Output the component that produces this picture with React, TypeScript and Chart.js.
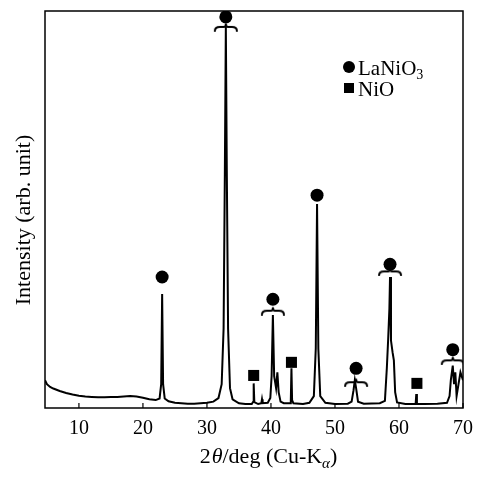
import React, { useEffect, useRef } from "react";
import { Chart, registerables } from "chart.js";

Chart.register(...registerables);

// XRD pattern (2θ in degrees, intensity in arbitrary units)
const twoTheta = [
  4.7, 5.0, 5.5, 6.0, 7.0, 8.0, 9.0, 10.0, 11.0, 12.0, 13.0, 14.0, 15.0, 16.0, 17.0, 18.0, 19.0, 20.0,
  21.0, 22.0, 22.6, 22.85, 23.0, 23.15, 23.4, 24.0, 25.0, 26.0, 27.0, 28.0, 29.0, 30.0, 31.0, 31.8,
  32.3, 32.6, 32.8, 32.95, 33.1, 33.3, 33.6, 34.0, 35.0, 36.0, 37.0, 37.2, 37.3, 37.4, 38.0, 38.5,
  38.6, 38.7, 39.5, 39.9, 40.1, 40.3, 40.5, 40.8, 41.0, 41.2, 41.5, 42.0, 43.0, 43.1, 43.2, 43.3,
  43.5, 45.0, 46.0, 46.7, 47.0, 47.2, 47.4, 47.7, 48.5, 50.0, 52.0, 52.6, 52.9, 53.1, 53.3, 53.6,
  54.5, 57.0, 57.8, 58.1, 58.3, 58.5, 58.6, 58.75, 59.0, 59.2, 59.4, 59.7, 61.0, 62.6, 62.7, 62.8,
  64.0, 66.0, 67.5, 67.9, 68.1, 68.4, 68.6, 68.8, 69.0, 69.3, 69.6, 70.0,
];
const intensity = [
  7.0, 6.0, 5.3, 4.9, 4.3, 3.8, 3.4, 3.1, 2.9, 2.8, 2.7, 2.7, 2.8, 2.8, 2.9, 3.0, 2.9, 2.6,
  2.2, 2.0, 2.4, 6.0, 28.7, 6.0, 2.4, 1.7, 1.3, 1.2, 1.1, 1.1, 1.2, 1.3, 1.6, 2.5,
  6.0, 20.0, 60.0, 96.0, 60.0, 20.0, 5.0, 2.2, 1.2, 1.0, 1.0, 1.5, 6.2, 1.5, 1.0, 1.2,
  2.2, 1.2, 1.3, 2.5, 8.0, 23.4, 8.0, 5.0, 9.0, 4.0, 1.6, 1.2, 1.2, 2.0, 10.0, 2.0,
  1.2, 1.0, 1.3, 3.0, 15.0, 51.4, 15.0, 3.0, 1.3, 1.0, 1.1, 1.6, 4.5, 7.0, 5.0, 1.6,
  1.1, 1.2, 1.8, 10.0, 17.0, 25.0, 33.0, 17.0, 14.0, 12.0, 4.0, 1.4, 1.0, 1.0, 3.5, 1.0,
  1.0, 1.1, 1.3, 3.0, 7.0, 10.7, 6.0, 9.0, 3.0, 6.0, 9.0, 7.0,
];

// Phase markers
const laNiO3X = [23.0, 32.95, 40.3, 47.2, 53.3, 58.6, 68.4];
const laNiO3Y = [33.0, 98.5, 27.4, 53.6, 10.0, 36.2, 14.7];
const nioX = [37.3, 43.2, 62.8];
const nioY = [8.2, 11.5, 6.2];
// brace marks under some circles
const braceX = [32.95, 40.3, 53.3, 58.6, 68.4];
const braceY = [96.0, 24.5, 6.5, 34.4, 12.0];

const xTicks = [10, 20, 30, 40, 50, 60, 70];
const legendLabels = ["LaNiO", "NiO"];

const SERIF = "'Liberation Serif', 'DejaVu Serif', serif";

function makeBrace(): HTMLCanvasElement {
  const c = document.createElement("canvas");
  c.width = 26;
  c.height = 10;
  const g = c.getContext("2d")!;
  g.strokeStyle = "#000";
  g.lineWidth = 2;
  g.lineCap = "round";
  g.beginPath();
  g.moveTo(2, 9);
  g.quadraticCurveTo(2, 5, 7, 5);
  g.lineTo(11, 5);
  g.quadraticCurveTo(13, 5, 13, 1.5);
  g.quadraticCurveTo(13, 5, 15, 5);
  g.lineTo(19, 5);
  g.quadraticCurveTo(24, 5, 24, 9);
  g.stroke();
  return c;
}

const framePlugin = {
  id: "framePlugin",
  afterDraw(chart: any) {
    const ctx = chart.ctx as CanvasRenderingContext2D;
    const a = chart.chartArea;
    const xs = chart.scales.x;
    ctx.save();
    ctx.strokeStyle = "#000";
    ctx.lineWidth = 1.5;
    ctx.strokeRect(a.left, a.top, a.right - a.left, a.bottom - a.top);
    // inward ticks
    ctx.lineWidth = 1.2;
    for (const v of xTicks) {
      const px = xs.getPixelForValue(v);
      ctx.beginPath();
      ctx.moveTo(px, a.bottom);
      ctx.lineTo(px, a.bottom - 5);
      ctx.stroke();
    }
    ctx.fillStyle = "#000";
    // y title
    ctx.save();
    ctx.translate(a.left - 15, 220);
    ctx.rotate(-Math.PI / 2);
    ctx.font = `22px ${SERIF}`;
    ctx.textAlign = "center";
    ctx.textBaseline = "alphabetic";
    ctx.fillText("Intensity (arb. unit)", 0, 0);
    ctx.restore();

    // x title with mixed styles
    const parts: [string, string, number][] = [
      ["2", `22px ${SERIF}`, 0],
      ["\u03b8", `italic 22px ${SERIF}`, 0],
      ["/deg (Cu-K", `22px ${SERIF}`, 0],
      ["\u03b1", `italic 15px ${SERIF}`, 5],
      [")", `22px ${SERIF}`, 0],
    ];
    let total = 0;
    for (const [t, f] of parts) {
      ctx.font = f;
      total += ctx.measureText(t).width;
    }
    let cx = 268 - total / 2;
    const base = 463;
    ctx.textAlign = "left";
    ctx.textBaseline = "alphabetic";
    for (const [t, f, dy] of parts) {
      ctx.font = f;
      ctx.fillText(t, cx, base + dy);
      cx += ctx.measureText(t).width + (t === "2" ? 1 : 0);
    }

    // legend inside the plot
    const lx = a.left + 304;
    ctx.beginPath();
    ctx.arc(lx, a.top + 56, 6, 0, Math.PI * 2);
    ctx.fill();
    ctx.fillRect(lx - 5, a.top + 77 - 5, 10, 10);
    ctx.font = `21px ${SERIF}`;
    ctx.fillText(legendLabels[0], lx + 9, a.top + 64);
    const w = ctx.measureText(legendLabels[0]).width;
    ctx.font = `14px ${SERIF}`;
    ctx.fillText("3", lx + 9 + w, a.top + 68);
    ctx.font = `21px ${SERIF}`;
    ctx.fillText(legendLabels[1], lx + 9, a.top + 85);
    ctx.restore();
  },
};

export default function App() {
  const ref = useRef<HTMLCanvasElement | null>(null);
  useEffect(() => {
    if (!ref.current) return;
    const brace = makeBrace();
    const chart = new Chart(ref.current, {
      type: "line",
      data: {
        datasets: [
          {
            label: "XRD",
            data: twoTheta.map((x, i) => ({ x, y: intensity[i] })),
            borderColor: "#000",
            borderWidth: 2,
            pointRadius: 0,
            tension: 0,
            fill: false,
          },
          {
            label: "LaNiO3",
            data: laNiO3X.map((x, i) => ({ x, y: laNiO3Y[i] })),
            showLine: false,
            pointStyle: "circle",
            pointRadius: 6.5,
            backgroundColor: "#000",
            borderColor: "#000",
            borderWidth: 0,
          },
          {
            label: "NiO",
            data: nioX.map((x, i) => ({ x, y: nioY[i] })),
            showLine: false,
            pointStyle: "rect",
            pointRadius: 7.8,
            backgroundColor: "#000",
            borderColor: "#000",
            borderWidth: 0,
          },
          {
            label: "brace",
            data: braceX.map((x, i) => ({ x, y: braceY[i] })),
            showLine: false,
            pointStyle: brace as any,
            pointRadius: 10,
          },
        ],
      },
      options: {
        animation: false,
        responsive: true,
        maintainAspectRatio: false,
        layout: { padding: { top: 7, right: 21, left: 0, bottom: 0 } },
        plugins: { legend: { display: false }, tooltip: { enabled: false } },
        scales: {
          x: {
            type: "linear",
            min: 4.7,
            max: 70,
            grid: { display: false, drawTicks: false },
            border: { display: false },
            afterBuildTicks: (s: any) => {
              s.ticks = xTicks.map((v) => ({ value: v }));
            },
            afterFit: (s: any) => {
              s.height = 70;
            },
            ticks: {
              color: "#000",
              font: { family: SERIF, size: 20 },
              padding: 9,
              maxRotation: 0,
              autoSkip: false,
            },
          },
          y: {
            type: "linear",
            min: 0,
            max: 100,
            grid: { display: false, drawTicks: false },
            border: { display: false },
            ticks: { display: false },
            afterFit: (s: any) => {
              s.width = 45;
            },
          },
        },
      },
      plugins: [framePlugin],
    } as any);
    return () => chart.destroy();
  }, []);
  return (
    <div style={{ position: "absolute", left: 0, top: 0, width: 484, height: 478, background: "#fff" }}>
      <canvas ref={ref} />
    </div>
  );
}
